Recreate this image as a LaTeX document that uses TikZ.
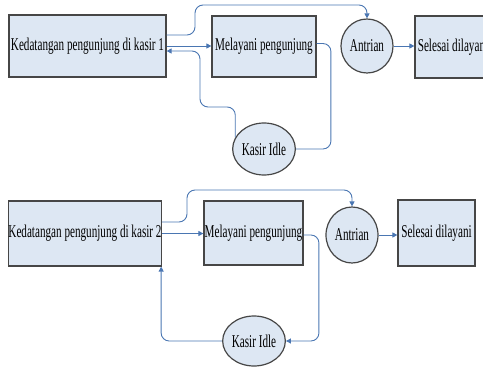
\documentclass[tikz,border=0pt]{standalone}
\usepackage{fontspec}
\newfontfamily\dfont[FakeStretch=0.62]{Liberation Serif}
\usetikzlibrary{shapes.geometric,arrows.meta,calc}
\definecolor{lineblue}{RGB}{74,118,178}
\definecolor{boxfill}{RGB}{221,231,243}
\definecolor{boxdraw}{RGB}{70,70,70}
\begin{document}
\begin{tikzpicture}[x=1pt,y=-1pt,
  box/.style={draw=boxdraw,line width=1.2pt,fill=boxfill,rectangle,inner sep=0pt,font=\dfont\fontsize{18}{20}\selectfont},
  oval/.style={draw=boxdraw,line width=1.2pt,fill=boxfill,ellipse,inner sep=0pt,font=\dfont\fontsize{18}{20}\selectfont},
  conn/.style={draw=lineblue,line width=0.9pt,rounded corners=8pt},
  arr/.style={conn,-{Triangle[length=5pt,width=5pt]}}
]
\useasboundingbox (0,0) rectangle (483,367);
\clip (0,0) rectangle (483,367);

% top diagram
\node[box,minimum width=157pt,minimum height=62pt] (A1) at (87.5,46) {Kedatangan pengunjung di kasir 1};
\node[box,minimum width=104pt,minimum height=61pt] (B1) at (264,46.5) {Melayani pengunjung};
\node[oval,minimum width=52pt,minimum height=54pt] (An1) at (367,46) {Antrian};
\node[box,minimum width=76pt,minimum height=62pt] (C1) at (453,47) {Selesai dilayani};
\node[oval,minimum width=52pt,minimum height=52pt] (K1) at (264,149) {Kasir Idle};

\draw[arr] ($(A1.east)+(0,-11)$) -| (195,5) -| (An1.north);
\draw[arr] (A1.east) -- (A1.east -| B1.west);
\draw[arr] (K1.158) |- (200,107) |- ($(A1.east)+(0,5)$);
\draw[conn] ($(B1.east)+(0,-3)$) -| ($(K1.east)+(35,0)$) -- (K1.east);
\draw[arr] (An1.east) -- (An1.east -| C1.west);

% bottom diagram
\node[box,minimum width=152pt,minimum height=65pt] (A2) at (85,233.5) {Kedatangan pengunjung di kasir 2};
\node[box,minimum width=99pt,minimum height=64pt] (B2) at (253.5,233) {Melayani pengunjung};
\node[oval,minimum width=52pt,minimum height=56pt] (An2) at (352,235) {Antrian};
\node[box,minimum width=77pt,minimum height=66pt] (C2) at (436.5,233) {Selesai dilayani};
\node[oval,minimum width=52pt,minimum height=50pt] (K2) at (254,341) {Kasir Idle};

\draw[arr] ($(A2.east)+(0,-11.5)$) -| (187,190) -| (An2.north);
\draw[arr] (A2.east) -- (A2.east -| B2.west);
\draw[arr] ($(B2.east)+(0,2)$) -| ($(K2.east)+(33,0)$) -- (K2.east);
\draw[arr] (K2.west) -| ($(A2.south east)+(-1,0)$);
\draw[arr] (An2.east) -- (An2.east -| C2.west);
\end{tikzpicture}
\end{document}
